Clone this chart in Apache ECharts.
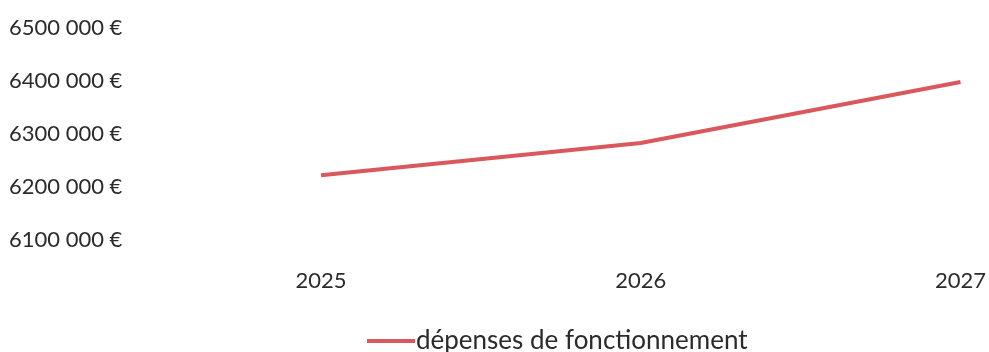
<!DOCTYPE html>
<html>
<head>
<meta charset="utf-8">
<script src="https://cdn.jsdelivr.net/npm/echarts@6/dist/echarts.min.js"></script>
<style>
  html, body { margin: 0; padding: 0; background: #fff; }
  #chart { width: 989px; height: 352px; }
</style>
</head>
<body>
<div id="chart"></div>
<script>
const years = ['2025', '2026', '2027'];
const depenses = [6222000, 6283000, 6398000];
const yTicks = [6100000, 6200000, 6300000, 6400000, 6500000];

const chart = echarts.init(document.getElementById('chart'));

// format "6500 000 €"
function fmt(v) {
    const s = String(v);
    return s.slice(0, s.length - 3) + ' ' + s.slice(-3) + ' €';
}

chart.setOption({
    backgroundColor: '#fff',
    textStyle: { fontFamily: 'Lato' },
    grid: { left: 321, right: 23, top: 28, bottom: 112 },
    xAxis: {
        type: 'category',
        data: years,
        boundaryGap: false,
        axisLine: { show: false },
        axisTick: { show: false },
        axisLabel: { color: '#2b2b2b', fontSize: 22, margin: 30 },
        splitLine: { show: false }
    },
    yAxis: {
        type: 'value',
        min: yTicks[0],
        max: yTicks[yTicks.length - 1],
        interval: 100000,
        axisLine: { show: false },
        axisTick: { show: false },
        splitLine: { show: false },
        axisLabel: {
            color: '#2b2b2b',
            fontSize: 22,
            align: 'left',
            margin: 312,
            formatter: fmt
        }
    },
    legend: {
        top: 323,
        left: 362,
        icon: 'rect',
        itemWidth: 48,
        itemHeight: 4,
        itemGap: 0,
        textStyle: { color: '#2b2b2b', fontSize: 26, padding: [0, 0, 0, -4] },
        data: ['dépenses de fonctionnement']
    },
    series: [{
        name: 'dépenses de fonctionnement',
        type: 'line',
        data: depenses,
        symbol: 'none',
        lineStyle: { color: '#d9575d', width: 4 },
        itemStyle: { color: '#d9575d' }
    }]
});
</script>
</body>
</html>
